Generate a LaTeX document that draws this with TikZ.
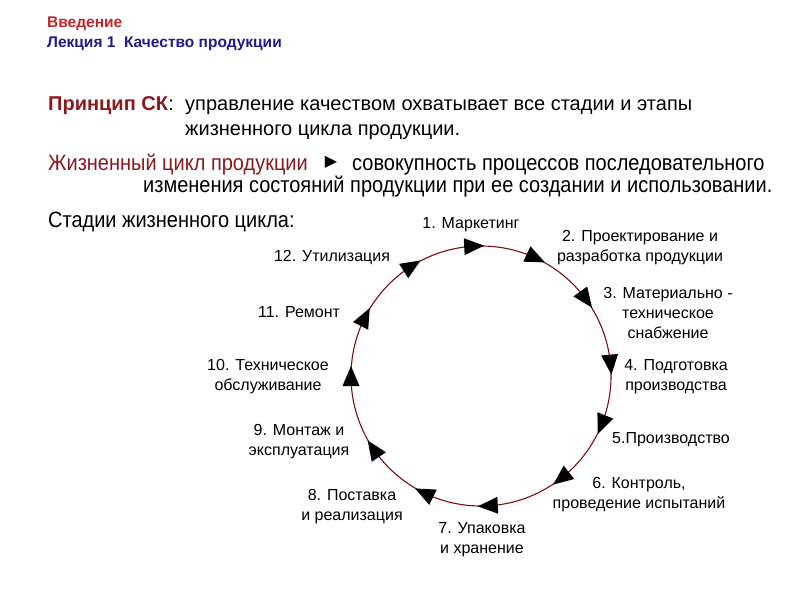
\documentclass[tikz,border=0pt]{standalone}
\usepackage{fontspec}
\setmainfont{Liberation Sans}
\newfontfamily\narrowsans[FakeStretch=0.9]{Liberation Sans}
\newfontfamily\symbolsans{DejaVu Sans}
\usetikzlibrary{positioning}
\definecolor{headred}{RGB}{196,38,44}
\definecolor{headblue}{RGB}{28,28,140}
\definecolor{darkred}{RGB}{140,24,28}
\definecolor{cyclered}{RGB}{128,12,18}

\begin{document}
\begin{tikzpicture}[x=1pt,y=1pt,
  header/.style={anchor=base west,inner sep=0pt,font=\fontsize{15.5}{18}\selectfont\bfseries},
  body/.style={anchor=base west,inner sep=0pt,font=\fontsize{20}{24}\selectfont},
  narrow/.style={anchor=base west,inner sep=0pt,font=\narrowsans\fontsize{22.2}{26}\selectfont},
  stage/.style={align=center,inner sep=0pt,font=\fontsize{16}{20}\selectfont},
  cycle line/.style={draw=cyclered,line width=1.1pt},
  cycle tip/.style={fill=black}]
  \useasboundingbox[fill=white] (0,0) rectangle (800,-600);

  \node[header,headred]  (intro)   at (47,-27) {Введение};
  \node[header,headblue] (lecture) at (47,-47) {Лекция 1\ \ Качество продукции};

  \node[body,darkred,font=\fontsize{20}{24}\selectfont\bfseries] (principle) at (48,-110) {Принцип СК};
  \node[body] (colon)      at (principle.base east) {:};
  \node[body] (principle1) at (185,-110) {управление качеством охватывает все стадии и этапы};
  \node[body] (principle2) at (185,-135) {жизненного цикла продукции.};

  \node[narrow,darkred] (life)  at (48,-170) {Жизненный цикл продукции};
  \node[inner sep=0pt,font=\symbolsans\fontsize{16}{18}\selectfont] (pointer) at (331,-162) {▶};
  \node[narrow] (life1) at (352,-170) {совокупность процессов последовательного};
  \node[narrow] (life2) at (143,-192) {изменения состояний продукции при ее создании и использовании.};

  \node[narrow] (stages) at (48,-227) {Стадии жизненного цикла:};

  % cycle of stages
  \coordinate (hub) at (481,-376);
  \draw[cycle line] (hub) circle (130);
  \begin{scope}[shift={(hub)}]
    \foreach \a in {93,65,36,5,-22,-52,-87,-116,-146,180,153,122}
      \fill[cycle tip,rotate=\a] (130,-10) -- (121.5,10) -- (138.5,10) -- cycle;
  \end{scope}

  \node[stage] (marketing)   at (471,-225) {1. Маркетинг};
  \node[stage] (design)      at (640,-248) {2. Проектирование и\\разработка продукции};
  \node[stage] (supply)      at (668,-313) {3. Материально -\\техническое\\снабжение};
  \node[stage] (preparation) at (676,-377) {4. Подготовка\\производства};
  \node[stage] (production)  at (671,-440) {5.Производство};
  \node[stage] (control)     at (639,-495) {6. Контроль,\\проведение испытаний};
  \node[stage] (packing)     at (482,-540) {7. Упаковка\\и хранение};
  \node[stage] (delivery)    at (352,-507) {8. Поставка\\и реализация};
  \node[stage] (operation)   at (299,-442) {9. Монтаж и\\эксплуатация};
  \node[stage] (service)     at (268,-377) {10. Техническое\\обслуживание};
  \node[stage] (repair)      at (299,-312) {11. Ремонт};
  \node[stage] (disposal)    at (332,-258) {12. Утилизация};
\end{tikzpicture}
\end{document}
